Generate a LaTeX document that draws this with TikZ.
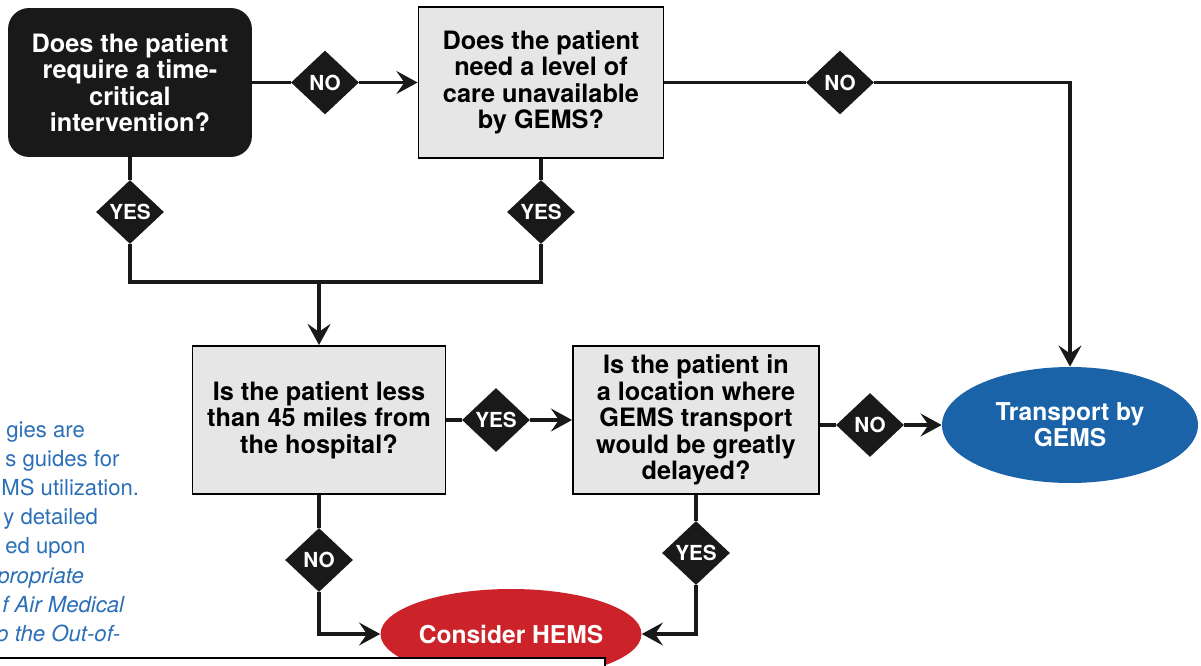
\documentclass[tikz,border=0pt]{standalone}
\usepackage{fontspec}
\setmainfont{TeX Gyre Heros}
\usetikzlibrary{arrows.meta, shapes.geometric}
\definecolor{gemsblue}{HTML}{1A63A8}
\definecolor{hemsred}{HTML}{CC2229}
\definecolor{noteblue}{HTML}{2B6FB7}
\definecolor{boxgray}{HTML}{E6E6E6}
\tikzset{
    question/.style={draw=black, line width=1.1pt, fill=boxgray, align=center, inner sep=0pt,
        font=\bfseries\fontsize{14.4}{15.1}\selectfont},
    startbox/.style={question, fill=black!90, draw=black!90, text=white, rounded corners=0.4cm},
    decision/.style={diamond, fill=black!90, text=white, inner sep=0pt,
        minimum width=1.36cm, minimum height=1.28cm, font=\bfseries\fontsize{11.8}{12}\selectfont},
    outcome/.style={ellipse, text=white, align=center, inner sep=0pt,
        font=\bfseries\fontsize{14}{14.9}\selectfont},
    link/.style={line width=2.2pt, black!90},
    arrow/.style={link, -{Stealth[length=12pt, width=13pt, inset=4.5pt]}},
    note/.style={text=noteblue, anchor=base west, inner sep=0pt, font=\fontsize{12.6}{16.5}\selectfont}
}
\begin{document}
\begin{tikzpicture}[x=0.02cm, y=-0.02cm]
    \useasboundingbox (0,0) rectangle (1201,666);
    \clip (0,0) rectangle (1201,666);
    % questions
    \node[startbox, minimum width=4.84cm, minimum height=2.94cm] (time) at (130,82.5)
        {Does the patient\\require a time-\\critical\\intervention?};
    \node[question, minimum width=4.9cm, minimum height=3.02cm] (level) at (541,82.5)
        {Does the patient\\need a level of\\care unavailable\\by GEMS?};
    \node[question, minimum width=5.06cm, minimum height=2.96cm] (dist) at (319,420)
        {Is the patient less\\than 45 miles from\\the hospital?};
    \node[question, minimum width=4.92cm, minimum height=2.96cm] (delay) at (696,420)
        {Is the patient in\\a location where\\GEMS transport\\would be greatly\\delayed?};
    % outcomes
    \node[outcome, fill=gemsblue, minimum width=5.12cm, minimum height=2.32cm] (gems) at (1070,425)
        {Transport by\\GEMS};
    \node[outcome, fill=hemsred, minimum width=5.14cm, minimum height=1.8cm] (hems) at (511,634)
        {Consider HEMS};
    % answers
    \node[decision] (no1) at (325,82.5) {NO};
    \node[decision] (no2) at (840,82.5) {NO};
    \node[decision] (yes1) at (130,212) {YES};
    \node[decision] (yes2) at (541,212) {YES};
    \node[decision] (yes3) at (496,420) {YES};
    \node[decision] (no3) at (870,425) {NO};
    \node[decision] (no4) at (319,560) {NO};
    \node[decision] (yes4) at (696,553) {YES};
    \coordinate (join) at (319,282);
    % connectors
    \draw[link] (time) -- (no1);
    \draw[arrow] (no1) -- (level);
    \draw[link] (level) -- (no2);
    \draw[arrow] (no2) -| (gems);
    \draw[link] (time) -- (yes1);
    \draw[link] (yes1) |- (join);
    \draw[link] (level) -- (yes2);
    \draw[link] (yes2) |- (join);
    \draw[arrow] (join) -- (dist);
    \draw[link] (dist) -- (yes3);
    \draw[arrow] (yes3) -- (delay);
    \draw[link] (delay.east |- gems) -- (no3);
    \draw[arrow] (no3) -- (gems);
    \draw[link] (dist) -- (no4);
    \draw[arrow] (no4) |- (hems);
    \draw[link] (delay) -- (yes4);
    \draw[arrow] (yes4) |- (hems);
    % side note, cut at the left edge
    \foreach \k/\xo/\txt in {0/6/gies are, 1/5/s guides for, 2/1/MS utilization., 3/3/y detailed,
            4/5/ed upon, 5/-3/\itshape propriate, 6/2/\itshape f Air Medical, 7/-4/\itshape o the Out-of-}
        \node[note] (note\k) at (\xo,437+29.2*\k) {\txt};
    \draw[fill=white, line width=1.2pt] (-10,658) rectangle (605,720);
\end{tikzpicture}
\end{document}
